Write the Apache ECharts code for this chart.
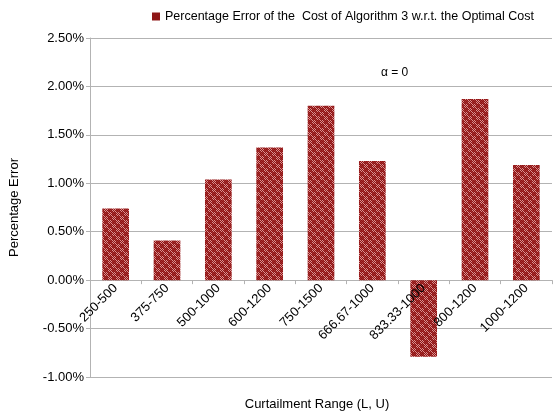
<!DOCTYPE html>
<html>
<head>
<meta charset="utf-8">
<script src="https://cdn.jsdelivr.net/npm/echarts@6/dist/echarts.min.js"></script>
<style>
  html, body { margin: 0; padding: 0; background: #fff; }
  #chart { width: 554px; height: 417px; }
</style>
</head>
<body>
<div id="chart"></div>
<script>
const ranges = ['250-500', '375-750', '500-1000', '600-1200', '750-1500', '666.67-1000', '833.33-1000', '800-1200', '1000-1200']
// percentage error, in %
const errors = [0.74, 0.41, 1.04, 1.37, 1.80, 1.23, -0.79, 1.87, 1.19]
const seriesName = 'Percentage Error of the  Cost of Algorithm 3 w.r.t. the Optimal Cost'

// plaid-ish dark red fill like the original
function makePattern() {
  const c = document.createElement('canvas')
  c.width = 8
  c.height = 8
  const ctx = c.getContext('2d')
  ctx.fillStyle = '#8e1414'
  ctx.fillRect(0, 0, 8, 8)
  for (let y = 0; y < 8; y++) {
    for (let x = 0; x < 8; x++) {
      if ((x + y) % 2 !== 0) continue
      ctx.fillStyle = (x < 4) === (y < 4) ? '#dc9090' : '#a52e2e'
      ctx.fillRect(x, y, 1, 1)
    }
  }
  return c
}

const font = 'Liberation Sans, Arial, sans-serif'
const chart = echarts.init(document.getElementById('chart'))
const pattern = makePattern()
const option = {
  animation: false,
  textStyle: { fontFamily: font },
  legend: {
    data: [seriesName],
    top: 5,
    left: 147,
    icon: 'rect',
    itemWidth: 8,
    itemHeight: 8,
    itemStyle: { color: '#8e1616' },
    textStyle: { fontSize: 12.5, color: '#000', fontFamily: font },
  },
  title: {
    text: 'Curtailment Range (L, U)',
    left: 312,
    textAlign: 'center',
    bottom: 1,
    textStyle: { fontSize: 13, fontWeight: 'normal', color: '#000', fontFamily: font },
  },
  graphic: [
    {
      type: 'text',
      left: 381,
      top: 67,
      style: { text: 'α = 0', fontSize: 12, fill: '#000', fontFamily: font },
    },
  ],
  grid: { left: 90, right: 2, top: 38, bottom: 40, containLabel: false, outerBoundsMode: 'none' },
  xAxis: {
    type: 'category',
    data: ranges,
    z: 5,
    // the 0% split line already draws the axis line, under the bars
    axisLine: { show: false, onZero: true },
    axisTick: { show: true, length: 4, lineStyle: { color: '#b3b3b3' } },
    axisLabel: { rotate: 45, interval: 0, fontSize: 13, color: '#000', margin: 6, fontFamily: font },
  },
  yAxis: {
    type: 'value',
    min: -1,
    max: 2.5,
    interval: 0.5,
    name: 'Percentage Error',
    nameLocation: 'middle',
    nameGap: 69,
    nameTextStyle: { fontSize: 13, color: '#000', fontFamily: font },
    axisLine: { show: true, lineStyle: { color: '#b3b3b3' } },
    axisTick: { show: true, length: 4, lineStyle: { color: '#b3b3b3' } },
    splitLine: { lineStyle: { color: '#b3b3b3' } },
    axisLabel: {
      fontSize: 13,
      color: '#000',
      margin: 6,
      fontFamily: font,
      formatter: (v) => v.toFixed(2) + '%',
    },
  },
  series: [
    {
      name: seriesName,
      type: 'bar',
      data: errors,
      barWidth: '52%',
      itemStyle: { color: { image: pattern, repeat: 'repeat' } },
    },
  ],
}
chart.setOption(option)

// onZero does not kick in here, so move the category axis up to the 0 line by hand
const zeroY = chart.convertToPixel({ yAxisIndex: 0 }, 0)
const minY = chart.convertToPixel({ yAxisIndex: 0 }, option.yAxis.min)
chart.setOption({ xAxis: { axisLine: { onZero: false }, offset: zeroY - minY } })
</script>
</body>
</html>
